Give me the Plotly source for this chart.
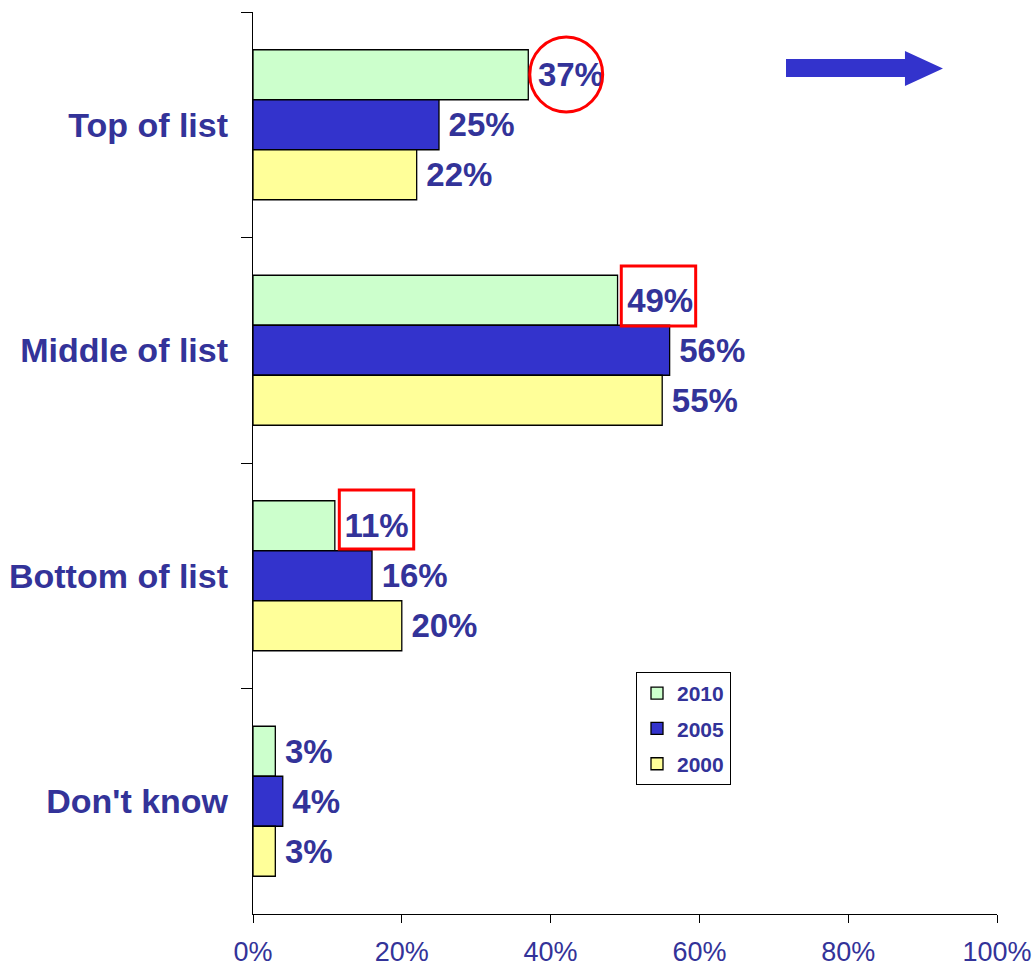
import plotly.graph_objects as go

# Survey answers: where respondents place the item on their list
categories = ["Top of list", "Middle of list", "Bottom of list", "Don't know"]
years = ["2010", "2005", "2000"]
share_2010 = [37, 49, 11, 3]
share_2005 = [25, 56, 16, 4]
share_2000 = [22, 55, 20, 3]
x_ticks = [0, 20, 40, 60, 80, 100]
x_tick_labels = ["0%", "20%", "40%", "60%", "80%", "100%"]

series = [share_2010, share_2005, share_2000]
colors = ["#CCFFCC", "#3333CC", "#FFFF99"]
label_color = "#333399"
font_family = "Liberation Sans, Arial, sans-serif"

W, H = 1034, 968
L, R, T, B = 253, 37, 12, 54
plot_w = W - L - R
plot_h = H - T - B


def px_x(px):
    return (px - L) / plot_w


def px_y(py):
    return (H - B - py) / plot_h


fig = go.Figure()
for name, vals, col in zip(years, series, colors):
    fig.add_trace(go.Bar(
        name=name,
        legendgroup=name,
        y=categories,
        x=vals,
        text=[f"\u2009{v}%" for v in vals],
        orientation="h",
        marker=dict(color=col, line=dict(color="black", width=1.3)),
        textposition="outside",
        constraintext="none",
        cliponaxis=False,
        textfont=dict(family=font_family, size=33, color=label_color, weight="bold"),
        hoverinfo="skip",
    ))

shapes = []
# highlight on the 2010 value for "Top of list"
shapes.append(dict(type="circle", xref="x", yref="paper",
                   x0=share_2010[0] + 0.2, x1=share_2010[0] + 10.0,
                   y0=px_y(112), y1=px_y(37),
                   line=dict(color="#FF0000", width=3)))
# boxes around the 2010 values for "Middle of list" and "Bottom of list"
shapes.append(dict(type="rect", xref="x", yref="paper",
                   x0=share_2010[1] + 0.5, x1=share_2010[1] + 10.5,
                   y0=px_y(326), y1=px_y(266),
                   line=dict(color="#FF0000", width=3)))
shapes.append(dict(type="rect", xref="x", yref="paper",
                   x0=share_2010[2] + 0.6, x1=share_2010[2] + 10.6,
                   y0=px_y(549), y1=px_y(490),
                   line=dict(color="#FF0000", width=3)))
# block arrow pointing right
pts = [(786, 59), (905, 59), (905, 51), (943, 68.5), (905, 86), (905, 77), (786, 77)]
path = "M " + " L ".join(f"{px_x(a):.4f},{px_y(b):.4f}" for a, b in pts) + " Z"
shapes.append(dict(type="path", xref="paper", yref="paper", path=path,
                   fillcolor="#3333CC", line=dict(width=0)))

fig.update_layout(
    width=W, height=H,
    margin=dict(l=L, r=R, t=T, b=B, pad=0, autoexpand=False),
    paper_bgcolor="white", plot_bgcolor="white",
    barmode="group",
    bargap=0.335,
    bargroupgap=0,
    font=dict(family=font_family, color=label_color),
    shapes=shapes,
    showlegend=True,
    legend=dict(
        x=px_x(636), y=px_y(672), xanchor="left", yanchor="top",
        bordercolor="black", borderwidth=1, bgcolor="white",
        font=dict(family=font_family, size=21, color=label_color, weight="bold"),
        itemwidth=30,
        traceorder="grouped",
        tracegroupgap=5,
    ),
    xaxis=dict(
        range=[0, 100], tickvals=x_ticks, ticktext=x_tick_labels,
        showgrid=False, zeroline=False, automargin=False,
        showline=True, linecolor="black", linewidth=1.3,
        ticks="outside", ticklen=8, tickwidth=1.3, tickcolor="black",
        tickfont=dict(family=font_family, size=27, color=label_color),
        ticklabelstandoff=5,
        fixedrange=True,
    ),
    yaxis=dict(
        type="category", autorange="reversed", automargin=False,
        showgrid=False, zeroline=False,
        showline=True, linecolor="black", linewidth=1.3,
        ticks="outside", ticklen=11, tickwidth=1.3, tickcolor="black",
        tickson="boundaries",
        tickfont=dict(family=font_family, size=34, color=label_color, weight="bold"),
        ticklabelstandoff=17,
        fixedrange=True,
    ),
)

fig.write_html("out.html")
